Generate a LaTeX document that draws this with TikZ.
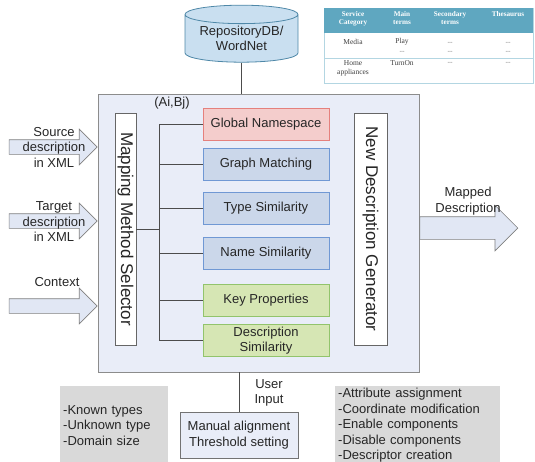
\documentclass[tikz,border=0pt]{standalone}
\usepackage{fontspec}
\setmainfont{Liberation Sans}
\newfontfamily\tabfont{Liberation Serif}
\usetikzlibrary{shapes.geometric,shapes.arrows}

\definecolor{corefill}{HTML}{E9EDF8}
\definecolor{arrowfill}{HTML}{E1E7F4}
\definecolor{dbfill}{HTML}{C9DFF0}
\definecolor{dbline}{HTML}{4F88A8}
\definecolor{redfill}{HTML}{F4CDCC}
\definecolor{redline}{HTML}{E5807D}
\definecolor{bluefill}{HTML}{CBD7EA}
\definecolor{blueline}{HTML}{7098D4}
\definecolor{greenfill}{HTML}{D6E6B4}
\definecolor{greenline}{HTML}{92C46C}
\definecolor{notefill}{HTML}{D9D9D9}
\definecolor{tabhead}{HTML}{5FA7C0}
\definecolor{tabline}{HTML}{B3D6E2}

\begin{document}
\begin{tikzpicture}[x=1pt,y=-1pt,
        font=\fontsize{13}{15.5}\selectfont,text=black!85,
        frame/.style={draw=black!45,fill=corefill,line width=0.8pt},
        bar/.style={draw=black!60,fill=white,line width=0.7pt,minimum width=#1,minimum height=232pt,inner sep=0pt,font=\fontsize{17}{19}\selectfont},
        method/.style={minimum width=126pt,minimum height=32pt,inner sep=0pt,line width=0.9pt,align=center},
        red/.style={method,draw=redline,fill=redfill},
        blue/.style={method,draw=blueline,fill=bluefill},
        green/.style={method,draw=greenline,fill=greenfill},
        fat/.style={single arrow,draw=black!50,fill=arrowfill,line width=0.7pt,inner xsep=0pt},
        lbl/.style={align=center,inner sep=0pt},
        note/.style={fill=notefill,align=left,anchor=north west,minimum height=78pt,inner xsep=3pt,inner ysep=0pt},
        cell/.style={font=\tabfont\fontsize{7.5}{9.5}\selectfont,text=black!75,align=center,inner sep=0pt},
        head/.style={cell,font=\tabfont\bfseries\fontsize{7.2}{8.5}\selectfont,text=white,anchor=north},
        link/.style={draw=black!70,line width=0.8pt},
    ]
    \useasboundingbox (0,0) rectangle (535,461);
    \clip (0,0) rectangle (535,461);

    %repository
    \node[cylinder,shape border rotate=90,aspect=0.22,draw=dbline,fill=dbfill,line width=0.8pt,
          minimum width=113pt,minimum height=57pt,align=center,inner sep=0pt] (db) at (241.5,38.5) {RepositoryDB/\\WordNet};

    %service table
    \node[draw=tabline,fill=white,minimum width=209pt,minimum height=75pt,inner sep=0pt] (tab) at (428.5,45.5) {};
    \node[fill=tabhead,minimum width=209pt,minimum height=25pt,inner sep=0pt] (thead) at (428.5,20.5) {};
    \node[head] (hcat) at (353,11) {Service\\Category};
    \node[head] (hmain) at (402,11) {Main\\terms};
    \node[head] (hsec) at (450,11) {Secondary\\terms};
    \node[head] (hthes) at (508,11) {Thesaurus};
    \draw[tabline,line width=0.8pt] (tab.west |- 0,58) -- (tab.east |- 0,58);
    \node[cell] (media) at (353,42) {Media};
    \node[cell] (play) at (402,42) {Play};
    \node[cell] (home) at (353,68.5) {Home\\appliances};
    \node[cell] (turnon) at (402,63) {TurnOn};
    \foreach \x/\y [count=\i] in {450/43,508/43,402/52,450/52,508/52,450/63,508/63}
        \node[cell,text=black!45] (dash\i) at (\x,\y) {--};

    %mapping core
    \node[frame,minimum width=321pt,minimum height=278pt,inner sep=0pt] (core) at (258.5,233) {};
    \node[lbl] (pair) at (172,103) {(Ai,Bj)};
    \node[bar=21pt] (sel) at (125.5,229) {\rotatebox{-90}{Mapping Method Selector}};
    \node[bar=33pt] (gen) at (370.5,229) {\rotatebox{-90}{New Description Generator}};

    \node[red] (gns) at (266,124) {Global Namespace};
    \node[blue] (graph) at (266,164) {Graph Matching};
    \node[blue] (type) at (266,208.5) {Type Similarity};
    \node[blue] (name) at (266,253) {Name Similarity};
    \node[green] (key) at (266,300.5) {Key Properties};
    \node[green] (desc) at (266,340.5) {Description\\[-1pt]Similarity};

    %selector tree
    \coordinate (trunk) at (159,229);
    \draw[link] (sel.east) -- (trunk);
    \draw[link] (trunk |- gns.west) -- (trunk |- desc.west);
    \foreach \m in {gns,graph,type,name,key,desc}
        \draw[link] (trunk |- \m.west) -- (\m.west);

    \draw[link] (db.south) -- (db.south |- core.north);

    %inputs
    \node[fat,minimum height=88pt,inner ysep=7pt,single arrow head extend=10.5pt,anchor=tip] (src) at (core.west |- 0,147) {};
    \node[fat,minimum height=88pt,inner ysep=7pt,single arrow head extend=10.5pt,anchor=tip] (tgt) at (core.west |- 0,221) {};
    \node[fat,minimum height=88pt,inner ysep=7pt,single arrow head extend=10.5pt,anchor=tip] (ctx) at (core.west |- 0,306) {};
    \node[lbl] (srclbl) at (54,147) {Source\\description\\in XML};
    \node[lbl] (tgtlbl) at (54,222) {Target\\description\\in XML};
    \node[lbl] (ctxlbl) at (57,282) {Context};

    %output
    \node[fat,minimum height=98pt,inner ysep=11pt,single arrow head extend=11.5pt,anchor=tail] (out) at (core.east |- 0,228) {};
    \node[lbl] (outlbl) at (468,201) {Mapped\\Description};

    %user input
    \node[frame,draw=black!55,minimum width=118pt,minimum height=46pt,align=center,inner sep=0pt] (manual) at (239,435) {Manual alignment\\Threshold setting};
    \draw[link] (manual.north) -- (manual.north |- core.south);
    \node[lbl] (user) at (269,393) {User\\Input};

    %notes
    \node[note,text width=102pt] (types) at (60,386) {-Known types\\-Unknown type\\-Domain size};
    \node[note,text width=159pt] (ops) at (335,386) {-Attribute assignment\\-Coordinate modification\\-Enable components\\-Disable components\\-Descriptor creation};
\end{tikzpicture}
\end{document}
